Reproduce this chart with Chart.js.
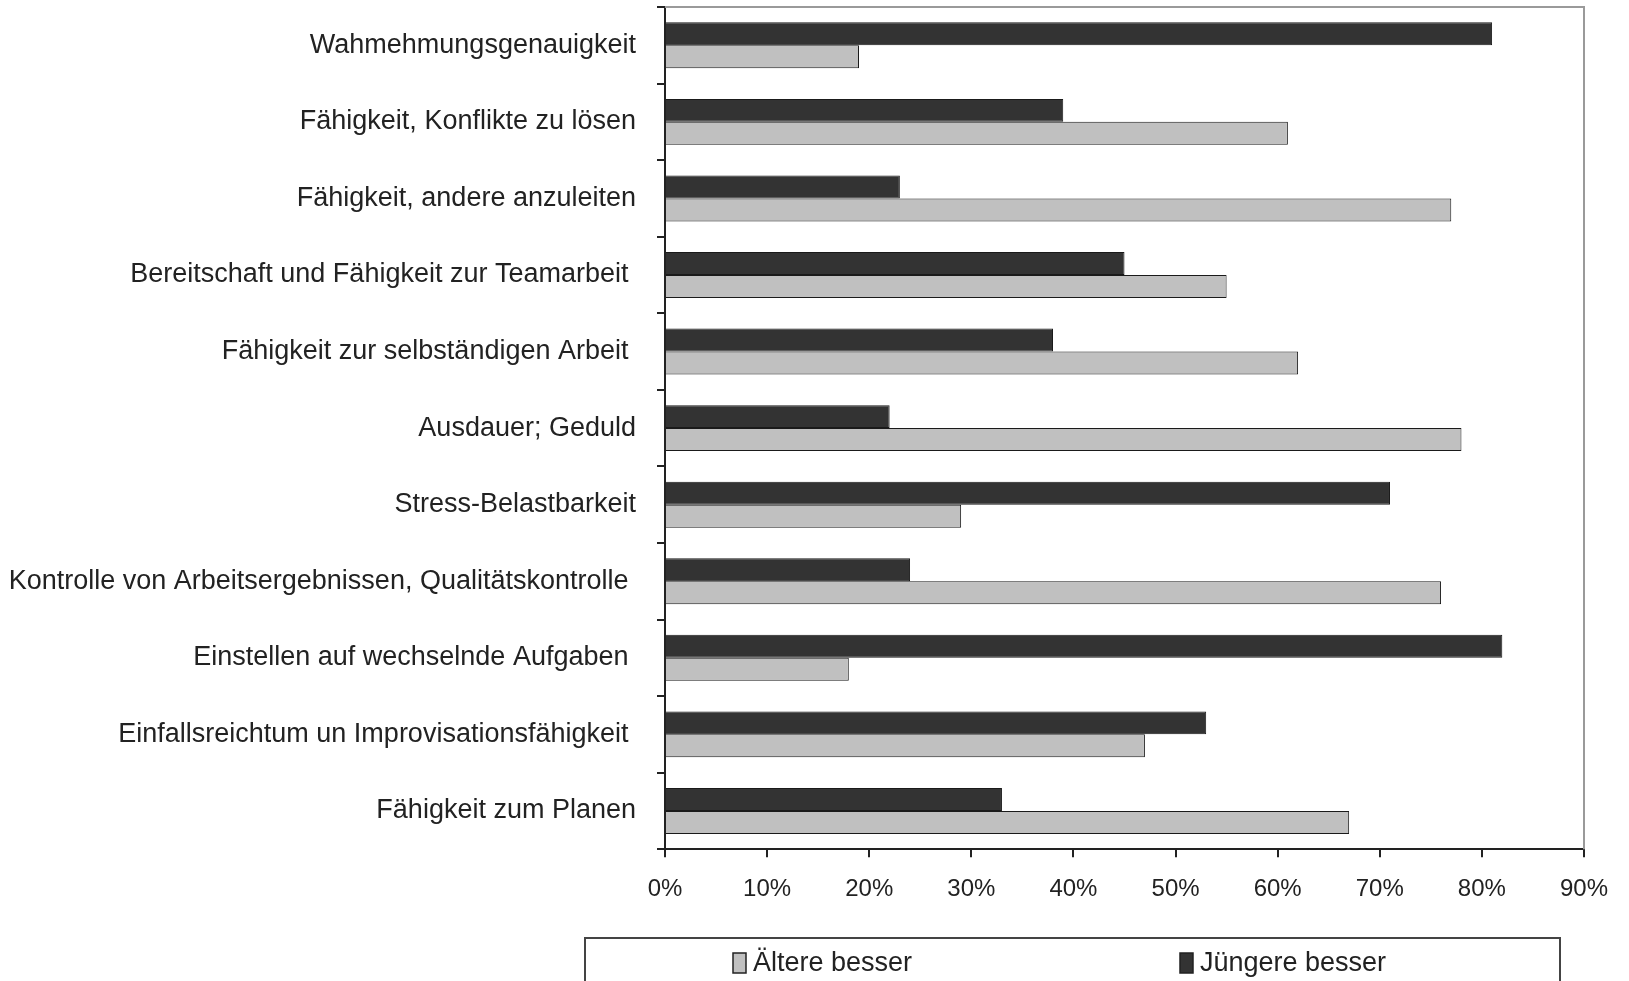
<!DOCTYPE html>
<html>
<head>
<meta charset="utf-8">
<script src="https://cdn.jsdelivr.net/npm/chart.js@4/dist/chart.umd.min.js"></script>
<style>
  html, body { margin: 0; padding: 0; background: #fff; }
  #wrap { width: 1629px; height: 981px; position: relative; }
</style>
</head>
<body>
<div id="wrap"><canvas id="myBarChart"></canvas></div>
<script>
const categories = [
  "Wahmehmungsgenauigkeit",
  "Fähigkeit, Konflikte zu lösen",
  "Fähigkeit, andere anzuleiten",
  "Bereitschaft und Fähigkeit zur Teamarbeit ",
  "Fähigkeit zur selbständigen Arbeit ",
  "Ausdauer; Geduld",
  "Stress-Belastbarkeit",
  "Kontrolle von Arbeitsergebnissen, Qualitätskontrolle ",
  "Einstellen auf wechselnde Aufgaben ",
  "Einfallsreichtum un Improvisationsfähigkeit ",
  "Fähigkeit zum Planen"
];

const juengereBesser = [81, 39, 23, 45, 38, 22, 71, 24, 82, 53, 33];
const aeltereBesser = [19, 61, 77, 55, 62, 78, 29, 76, 18, 47, 67];

const xTicks = [0, 10, 20, 30, 40, 50, 60, 70, 80, 90];

const fontFamily = '"Liberation Sans", Arial, sans-serif';

// frame on the top/right of the plot plus the boxed legend underneath
const framePlugin = {
  id: "frameAndLegend",
  afterDraw(chart) {
    const ctx = chart.ctx;
    const area = chart.chartArea;
    ctx.save();
    ctx.strokeStyle = "#9a9a9a";
    ctx.lineWidth = 2;
    ctx.beginPath();
    ctx.moveTo(area.left, area.top);
    ctx.lineTo(area.right, area.top);
    ctx.lineTo(area.right, area.bottom);
    ctx.stroke();

    // legend box
    ctx.strokeStyle = "#444";
    ctx.lineWidth = 2;
    ctx.strokeRect(585, 938, 975, 60);

    const ds = chart.data.datasets;
    const entries = [
      { x: 733, d: ds[1] },
      { x: 1180, d: ds[0] }
    ];
    ctx.font = "27px " + fontFamily;
    ctx.textBaseline = "middle";
    ctx.textAlign = "left";
    entries.forEach(e => {
      ctx.fillStyle = e.d.backgroundColor;
      ctx.fillRect(e.x, 953, 13, 20);
      ctx.strokeStyle = "#222";
      ctx.lineWidth = 1.5;
      ctx.strokeRect(e.x, 953, 13, 20);
      ctx.fillStyle = "#222";
      ctx.fillText(e.d.label, e.x + 20, 964);
    });
    ctx.restore();
  }
};

const ctx = document.getElementById("myBarChart").getContext("2d");
const chart = new Chart(ctx, {
  type: "bar",
  data: {
    labels: categories,
    datasets: [
      {
        label: "Jüngere besser",
        data: juengereBesser,
        backgroundColor: "#333333",
        borderColor: "#1a1a1a",
        borderWidth: 1,
        barPercentage: 1,
        categoryPercentage: 0.6
      },
      {
        label: "Ältere besser",
        data: aeltereBesser,
        backgroundColor: "#c0c0c0",
        borderColor: "#1a1a1a",
        borderWidth: 1,
        barPercentage: 1,
        categoryPercentage: 0.6
      }
    ]
  },
  options: {
    indexAxis: "y",
    responsive: true,
    maintainAspectRatio: false,
    animation: false,
    layout: {
      padding: { top: 7, right: 45, bottom: 59, left: 0 }
    },
    plugins: {
      legend: { display: false },
      tooltip: { enabled: false }
    },
    scales: {
      x: {
        min: 0,
        max: 90,
        afterBuildTicks: scale => {
          scale.ticks = xTicks.map(v => ({ value: v }));
        },
        border: { color: "#222", width: 2 },
        grid: {
          drawOnChartArea: false,
          color: "#222",
          lineWidth: 2,
          tickLength: 8
        },
        ticks: {
          padding: 18,
          color: "#222",
          font: { family: fontFamily, size: 24 },
          callback: v => v + "%"
        }
      },
      y: {
        afterFit: scale => {
          scale.width = 665;
          scale.paddingTop = 0;
          scale.paddingBottom = 0;
        },
        border: { color: "#222", width: 2 },
        grid: {
          offset: true,
          drawOnChartArea: false,
          color: "#222",
          lineWidth: 2,
          tickLength: 8
        },
        ticks: {
          padding: 21,
          color: "#222",
          font: { family: fontFamily, size: 27 }
        }
      }
    }
  },
  plugins: [framePlugin]
});
</script>
</body>
</html>
